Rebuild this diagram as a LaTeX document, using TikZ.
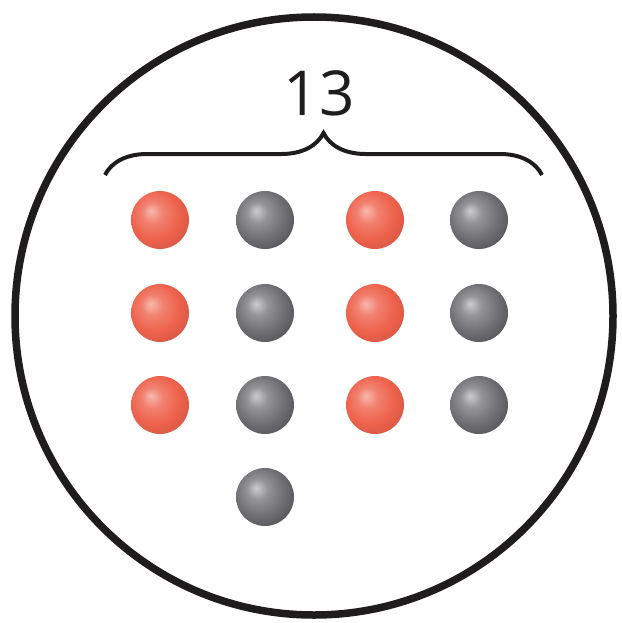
\documentclass[tikz,border=0pt]{standalone}
\usepackage{fontspec}
\setsansfont{Open Sans}
\usepackage{xcolor}
\usetikzlibrary{shapes,decorations.pathreplacing}
\definecolor{ballred}{RGB}{238,98,76}
\definecolor{ballgrey}{RGB}{112,112,116}
\definecolor{inkgrey}{RGB}{30,28,29}

% shaded spheres, highlight up and to the left
\pgfdeclareradialshading{redsphere}{\pgfpoint{-8bp}{8bp}}{color(0bp)=(ballred!45!white); color(9bp)=(ballred!80!white); color(21bp)=(ballred); color(33bp)=(ballred!88!black); color(50bp)=(ballred!88!black)}
\pgfdeclareradialshading{greysphere}{\pgfpoint{-8bp}{8bp}}{color(0bp)=(ballgrey!35!white); color(9bp)=(ballgrey!75!white); color(21bp)=(ballgrey); color(33bp)=(ballgrey!72!black); color(50bp)=(ballgrey!72!black)}

\tikzset{
  atom/.style={circle, minimum size=58pt, inner sep=0pt, shade},
  redatom/.style={atom, shading=redsphere},
  greyatom/.style={atom, shading=greysphere},
}

\begin{document}
\begin{tikzpicture}[x=1pt, y=-1pt]
    \useasboundingbox (0,0) rectangle (621,623);
    \node[circle, draw=inkgrey, line width=7.5pt, minimum size=598pt, inner sep=0pt] (cell) at (314,316) {};

    \node[redatom] (r1) at (160,220) {};
    \node[greyatom] (g1) at (265,220) {};
    \node[redatom] (r2) at (375,220) {};
    \node[greyatom] (g2) at (479,220) {};
    \node[redatom] (r3) at (160,313) {};
    \node[greyatom] (g3) at (265,313) {};
    \node[redatom] (r4) at (375,313) {};
    \node[greyatom] (g4) at (479,313) {};
    \node[redatom] (r5) at (160,405) {};
    \node[greyatom] (g5) at (265,405) {};
    \node[redatom] (r6) at (375,405) {};
    \node[greyatom] (g6) at (479,405) {};
    \node[greyatom] (g7) at (265,497) {};

    \coordinate (braceleft) at (105,175);
    \coordinate (braceright) at (542,175);
    \draw[inkgrey, line width=4pt, decorate, decoration={brace, amplitude=42pt}] (braceleft) -- (braceright);
    \node[text=inkgrey, font=\sffamily\fontsize{62}{62}\selectfont, inner sep=0pt] (count) at (319,93) {13};
\end{tikzpicture}
\end{document}
